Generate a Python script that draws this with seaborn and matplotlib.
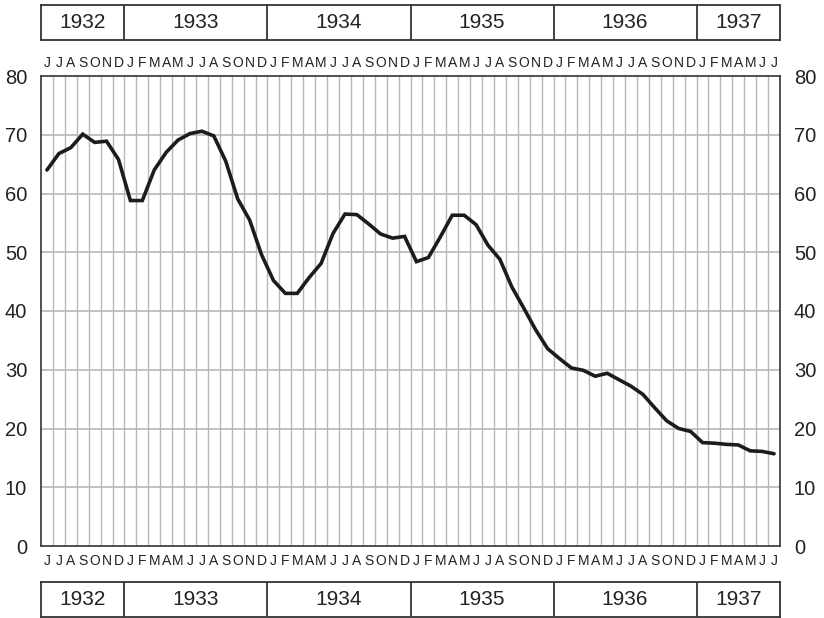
import matplotlib
matplotlib.use("Agg")
import matplotlib.pyplot as plt
import seaborn as sns
import pandas as pd

# Monthly index values, June 1932 through July 1937
month_letters = (["J", "J", "A", "S", "O", "N", "D"]
                 + ["J", "F", "M", "A", "M", "J", "J", "A", "S", "O", "N", "D"] * 4
                 + ["J", "F", "M", "A", "M", "J", "J"])
years = ["1932", "1933", "1934", "1935", "1936", "1937"]
months_per_year = [7, 12, 12, 12, 12, 7]
values = [64.0, 66.8, 67.8, 70.1, 68.7, 68.9, 65.8, 58.8, 58.8, 64.0,
          67.0, 69.1, 70.2, 70.6, 69.8, 65.5, 59.1, 55.5, 49.6, 45.2,
          43.0, 43.0, 45.7, 48.1, 53.2, 56.5, 56.4, 54.8, 53.1, 52.4,
          52.7, 48.4, 49.1, 52.6, 56.3, 56.3, 54.7, 51.2, 48.8, 44.1,
          40.5, 36.8, 33.6, 31.9, 30.3, 29.9, 28.9, 29.4, 28.3, 27.2,
          25.8, 23.5, 21.3, 20.0, 19.5, 17.6, 17.5, 17.3, 17.2, 16.2,
          16.1, 15.7]
y_ticks = [0, 10, 20, 30, 40, 50, 60, 70, 80]

df = pd.DataFrame({"month": range(len(values)), "value": values})

sns.set_theme(style="white")
plt.rcParams["font.family"] = ["Liberation Sans", "DejaVu Sans"]

W, H = 824, 618
fig = plt.figure(figsize=(W / 100, H / 100), dpi=100)
fig.patch.set_facecolor("white")

left, right = 41, 780
top, bottom = 76, 546
ax = fig.add_axes([left / W, (H - bottom) / H, (right - left) / W, (bottom - top) / H])

n = len(values)
ax.set_xlim(-0.5, n - 0.5)
ax.set_ylim(0, 80)

grid_c = "#b8b8b8"
for k in range(n - 1):
    ax.axvline(k + 0.5, color=grid_c, lw=1.0, zorder=1)
for v in y_ticks[1:-1]:
    ax.axhline(v, color=grid_c, lw=1.2, zorder=1)

sns.lineplot(data=df, x="month", y="value", ax=ax, color="#1c1c1c",
             linewidth=2.6, zorder=3, solid_joinstyle="miter")

ax.set_xlabel("")
ax.set_ylabel("")
ax.set_yticks(y_ticks)
ax.set_yticklabels([str(v) for v in y_ticks])
ax.tick_params(axis="y", left=False, right=False, length=0, labelleft=True,
               labelright=True, labelsize=14.5, pad=10, colors="#222222")

# Month letters below the plot
ax.set_xticks(range(n))
ax.set_xticklabels(month_letters)
ax.tick_params(axis="x", bottom=False, top=False, length=0, labelbottom=True,
               labeltop=False, labelsize=10, pad=6, colors="#222222")

# Month letters above the plot
top_axis = ax.secondary_xaxis("top")
top_axis.set_xticks(range(n))
top_axis.set_xticklabels(month_letters)
top_axis.tick_params(length=0, labelsize=10, pad=4, colors="#222222")
top_axis.spines["top"].set_visible(False)

for s in ax.spines.values():
    s.set_color("#333333")
    s.set_linewidth(1.2)
    s.set_visible(True)

# Year bands above and below the chart
def year_band(y_top, y_bot):
    bax = fig.add_axes([left / W, (H - y_bot) / H, (right - left) / W, (y_bot - y_top) / H])
    bax.set_xlim(-0.5, n - 0.5)
    bax.set_ylim(0, 1)
    bax.set_xticks([])
    bax.set_yticks([])
    bax.set_facecolor("white")
    for s in bax.spines.values():
        s.set_color("#333333")
        s.set_linewidth(1.3)
        s.set_visible(True)
    start = 0
    for yr, cnt in zip(years, months_per_year):
        end = start + cnt
        if end < n:
            bax.axvline(end - 0.5, color="#333333", lw=1.3)
        bax.text((start + end - 1) / 2, 0.5, yr, ha="center", va="center",
                 fontsize=15, color="#222222")
        start = end

year_band(4.5, 39.5)
year_band(582, 617)

fig.savefig("out.png", dpi=100, facecolor="white")
